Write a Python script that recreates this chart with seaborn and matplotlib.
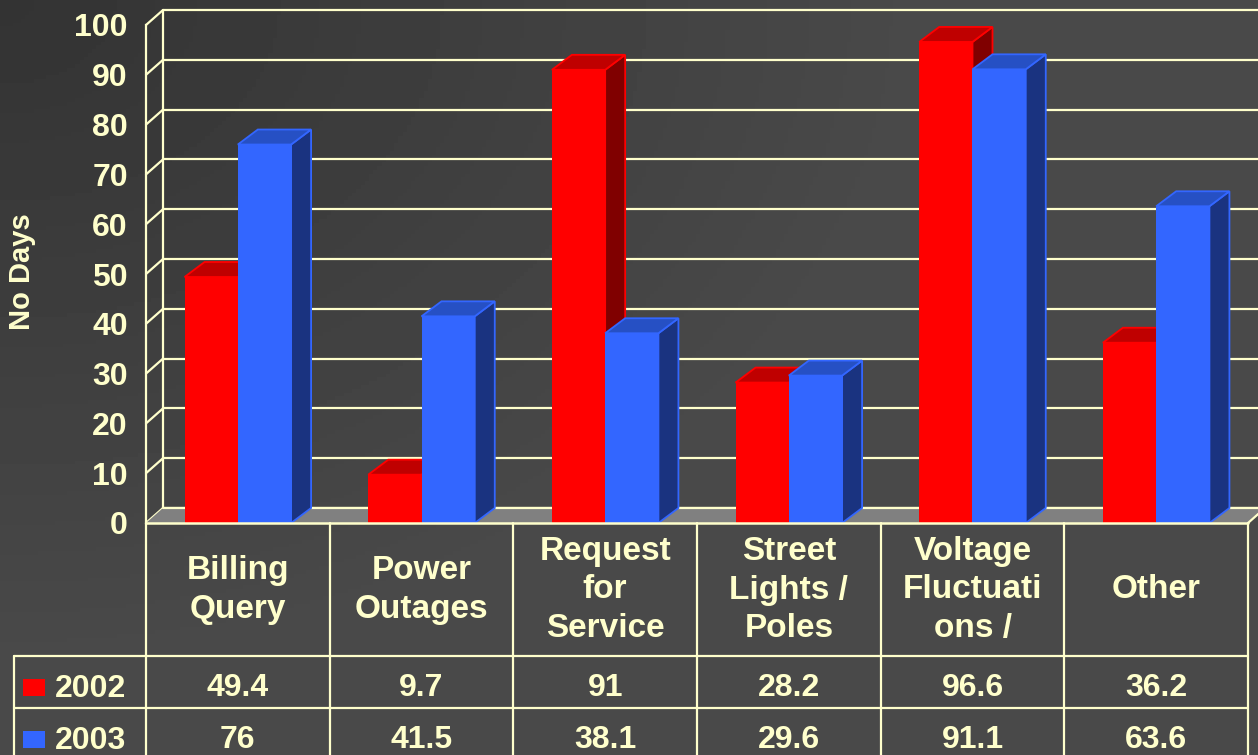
import numpy as np
import pandas as pd
import matplotlib
matplotlib.use("Agg")
import matplotlib.pyplot as plt
import matplotlib.transforms as mtransforms
from matplotlib.patches import Polygon, Rectangle
import seaborn as sns

# ---------------- data ----------------
categories = ["Billing\nQuery", "Power\nOutages", "Request\nfor\nService",
              "Street\nLights /\nPoles", "Voltage\nFluctuati\nons /", "Other"]
series_names = ["2002", "2003"]
values_2002 = [49.4, 9.7, 91, 28.2, 96.6, 36.2]
values_2003 = [76, 41.5, 38.1, 29.6, 91.1, 63.6]
y_ticks = [0, 10, 20, 30, 40, 50, 60, 70, 80, 90, 100]
y_label = "No Days"

# ---------------- style ----------------
W, H = 1258, 755
CREAM = "#FFFFCC"
front_col = {"2002": "#FF0000", "2003": "#3366FF"}
top_col = {"2002": "#BF0000", "2003": "#2650C4"}
side_col = {"2002": "#800000", "2003": "#1A3380"}

sns.set_theme(style="white")
plt.rcParams['font.family'] = ['Liberation Sans', 'DejaVu Sans']
plt.rcParams['font.weight'] = 'bold'

fig = plt.figure(figsize=(W / 100, H / 100), dpi=100)

# background gradient (dark top-left corner)
bg = fig.add_axes([0, 0, 1, 1], zorder=-10)
yy, xx = np.mgrid[0:1:200j, 0:1:300j]
g = 0.20 + 0.09 * np.clip(np.sqrt((xx * 1.2) ** 2 + yy ** 2) / 0.9, 0, 1)
bg.imshow(g, cmap="gray", vmin=0, vmax=1, aspect="auto", extent=[0, 1, 0, 1])
bg.axis("off")

def fy(px):
    return 1 - px / H

# main axes: front plane
ax = fig.add_axes([146 / W, fy(523), 1102 / W, 498 / H])
ax.patch.set_alpha(0)

df = pd.DataFrame({
    "category": categories * 2,
    "year": [series_names[0]] * len(categories) + [series_names[1]] * len(categories),
    "days": values_2002 + values_2003,
})
sns.barplot(data=df, x="category", y="days", hue="year", order=categories,
            hue_order=series_names, palette=front_col, width=0.58, gap=0,
            saturation=1, linewidth=0, errorbar=None, legend=False, ax=ax)
bars = list(ax.patches)

ax.set_xlim(-0.5, len(categories) - 0.5)
ax.set_ylim(0, 100)
ax.set_xticks([])
ax.set_yticks(y_ticks)
ax.set_xlabel("")
ax.set_ylabel("")
for s in ["top", "right", "bottom"]:
    ax.spines[s].set_visible(False)
ax.spines["left"].set_color(CREAM)
ax.spines["left"].set_linewidth(1.6)
ax.spines["left"].set_zorder(6)
ax.tick_params(axis="y", direction="out", length=9.5, width=1.6, color=CREAM,
               labelcolor=CREAM, labelsize=23, pad=3.5)
for t in ax.get_yticklabels():
    t.set_fontweight("bold")

colw = 1102 / len(categories)          # px per category
ppu = 498 / 100                         # px per y unit
wdx, wdy = 17 / colw, 15 / ppu          # wall depth
bdx, bdy = 20 / colw, 15 / ppu          # bar depth
x_lo, x_hi = -0.5, len(categories) - 0.5

# back wall + side wall gridlines
for t in y_ticks:
    ax.plot([x_lo + wdx, x_hi + wdx + 0.2], [t + wdy, t + wdy], color=CREAM,
            lw=1.6, clip_on=False, zorder=0.5)
    ax.plot([x_lo, x_lo + wdx], [t, t + wdy], color=CREAM, lw=1.6,
            clip_on=False, zorder=0.5)
ax.plot([x_lo + wdx, x_lo + wdx], [wdy, 100 + wdy], color=CREAM, lw=1.6,
        clip_on=False, zorder=0.5)

# floor
ax.add_patch(Polygon([(x_lo, 0), (x_hi, 0), (x_hi + wdx, wdy), (x_lo + wdx, wdy)],
                     closed=True, fc="#808080", ec="none", zorder=1, clip_on=False))
ax.plot([x_lo + wdx, x_hi + wdx], [wdy, wdy], color=CREAM, lw=1.6,
        clip_on=False, zorder=1.1)
ax.plot([x_hi, x_hi + wdx], [0, wdy], color=CREAM, lw=1.6, clip_on=False, zorder=1.1)

# 3D bar faces computed from the seaborn bars
def series_of(p):
    fc = matplotlib.colors.to_hex(p.get_facecolor())
    for k, name in enumerate(series_names):
        if fc.lower() == matplotlib.colors.to_hex(front_col[name]).lower():
            return k, name
    return 0, series_names[0]

for p in bars:
    k, name = series_of(p)
    z = 3 + 2 * k
    p.set_zorder(z)
    x0, w, h = p.get_x(), p.get_width(), p.get_height()
    top = Polygon([(x0, h), (x0 + w, h), (x0 + w + bdx, h + bdy), (x0 + bdx, h + bdy)],
                  closed=True, fc=top_col[name], ec=front_col[name], lw=1.3,
                  zorder=z, clip_on=False)
    side = Polygon([(x0 + w, 0), (x0 + w + bdx, bdy), (x0 + w + bdx, h + bdy), (x0 + w, h)],
                   closed=True, fc=side_col[name], ec=front_col[name], lw=1.3,
                   zorder=z, clip_on=False)
    ax.add_patch(side)
    ax.add_patch(top)

# front floor edge / table top
ax.plot([x_lo, x_hi], [0, 0], color=CREAM, lw=1.8, clip_on=False, zorder=7)

# ---------------- data table ----------------
tr = mtransforms.blended_transform_factory(ax.transData, fig.transFigure)
leg_x = x_lo - 132 / colw
row_lines = [656, 708]
for i in range(len(categories) + 1):
    ax.plot([x_lo + i, x_lo + i], [fy(523), fy(770)], color=CREAM, lw=1.6,
            transform=tr, clip_on=False, zorder=7)
ax.plot([leg_x, leg_x], [fy(656), fy(770)], color=CREAM, lw=1.6, transform=tr,
        clip_on=False, zorder=7)
for r in row_lines:
    ax.plot([leg_x, x_hi], [fy(r), fy(r)], color=CREAM, lw=1.6, transform=tr,
            clip_on=False, zorder=7)

for i, c in enumerate(categories):
    ax.text(i, fy(590), c, transform=tr, ha="center", va="center", color=CREAM,
            fontsize=24, fontweight="bold", linespacing=1.31, zorder=8)

row_base = [696, 748]
for k, (name, vals) in enumerate(zip(series_names, [values_2002, values_2003])):
    for i, v in enumerate(vals):
        ax.text(i, fy(row_base[k]), f"{v:g}", transform=tr, ha="center",
                va="baseline", color=CREAM, fontsize=23, fontweight="bold", zorder=8)
    fig.add_artist(Rectangle((23 / W, fy(row_base[k])), 22 / W, 17 / H,
                             transform=fig.transFigure, fc=front_col[name], ec="none"))
    fig.text(55 / W, fy(row_base[k] + 1), name, ha="left", va="baseline",
             color=CREAM, fontsize=23, fontweight="bold")

fig.text(22 / W, fy(272), y_label, rotation=90, ha="center", va="center",
         color=CREAM, fontsize=21, fontweight="bold")

fig.savefig("out.png", dpi=100)
